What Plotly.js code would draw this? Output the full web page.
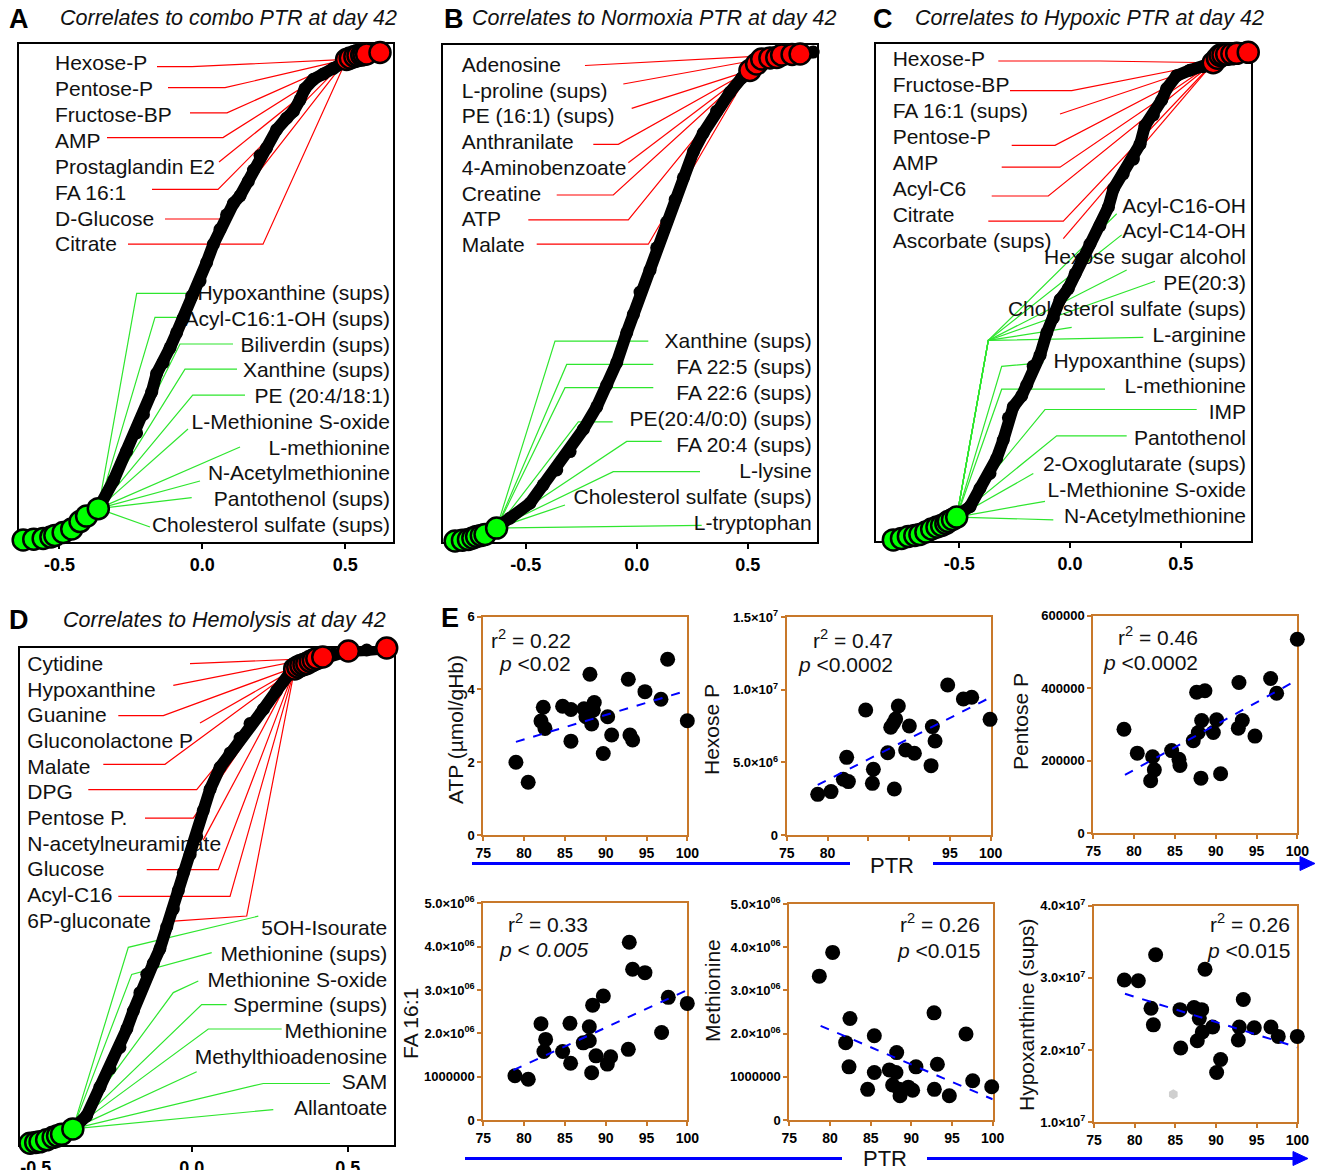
<!DOCTYPE html>
<html><head><meta charset="utf-8">
<script src="https://cdn.plot.ly/plotly-3.0.1.min.js"></script>
<style>body{margin:0;background:#fff}#chart{width:1320px;height:1170px}</style>
</head><body><div id="chart"></div>
<script>
// ================= DATA =================
// Panel A – correlates to combo PTR (x = correlation, y = rank percentile)
const curveA_r = [-0.627,-0.557,-0.516,-0.487,-0.457,-0.428,-0.405,-0.364,-0.311,-0.265,-0.230,-0.206,-0.177,-0.160,-0.137,-0.113,-0.090,-0.067,-0.037,-0.008,0.015,0.039,0.062,0.085,0.109,0.132,0.161,0.179,0.202,0.225,0.260,0.295,0.319,0.342,0.359,0.389,0.424,0.459,0.505,0.534,0.575,0.622];
const curveA_rank = [0.4,0.7,1.3,1.9,2.6,4.1,5.2,6.7,12.3,18.2,21.9,25.6,30.1,33.8,36.0,39.0,42.0,44.9,49.4,52.4,56.1,59.8,62.8,65.7,68.0,69.5,72.4,74.7,77.6,79.1,82.8,85.1,86.5,88.8,91.0,92.9,94.0,95.1,96.9,97.5,98.0,98.3];
const greenA_r = [-0.627,-0.590,-0.557,-0.530,-0.516,-0.487,-0.457,-0.428,-0.405,-0.364];
const greenA_rank = [0.4,0.55,0.7,1.0,1.3,1.9,2.6,4.1,5.2,6.7];
const redA_r = [0.505,0.518,0.534,0.545,0.558,0.566,0.575,0.622];
const redA_rank = [96.9,97.2,97.5,97.7,97.8,97.9,98.0,98.3];
const redA_labels = ['Hexose-P','Pentose-P','Fructose-BP','AMP','Prostaglandin E2','FA 16:1','D-Glucose','Citrate'];
const greenA_labels = ['Hypoxanthine (sups)','Acyl-C16:1-OH (sups)','Biliverdin (sups)','Xanthine (sups)','PE (20:4/18:1)','L-Methionine S-oxide','L-methionine','N-Acetylmethionine','Pantothenol (sups)','Cholesterol sulfate (sups)'];

// Panel B – Normoxia PTR
const curveB_r = [-0.818,-0.758,-0.721,-0.683,-0.631,-0.571,-0.481,-0.421,-0.360,-0.300,-0.240,-0.180,-0.135,-0.090,-0.045,-0.015,0.015,0.060,0.090,0.135,0.173,0.210,0.255,0.300,0.360,0.420,0.473,0.510,0.563,0.631,0.736,0.795];
const curveB_rank = [0.2,0.5,1.1,1.5,2.8,4.8,7.8,11.5,14.5,18.2,22.7,27.2,31.6,36.1,42.1,45.8,50.3,54.7,59.2,64.4,68.9,73.3,78.5,82.3,86.7,90.5,93.4,94.9,97.2,97.5,98.2,98.6];
const greenB_r = [-0.818,-0.785,-0.758,-0.738,-0.721,-0.700,-0.683,-0.631];
const greenB_rank = [0.2,0.35,0.5,0.8,1.1,1.3,1.5,2.8];
const redB_r = [0.510,0.540,0.563,0.600,0.631,0.653,0.700,0.736];
const redB_rank = [94.9,96.2,97.2,97.4,97.5,98.0,98.1,98.2];
const redB_labels = ['Adenosine','L-proline (sups)','PE (16:1) (sups)','Anthranilate','4-Aminobenzoate','Creatine','ATP','Malate'];
const greenB_labels = ['Xanthine (sups)','FA 22:5 (sups)','FA 22:6 (sups)','PE(20:4/0:0) (sups)','FA 20:4 (sups)','L-lysine','Cholesterol sulfate (sups)','L-tryptophan'];

// Panel C – Hypoxic PTR
const curveC_r = [-0.797,-0.729,-0.677,-0.624,-0.579,-0.549,-0.511,-0.451,-0.406,-0.361,-0.331,-0.301,-0.278,-0.256,-0.218,-0.195,-0.166,-0.135,-0.105,-0.075,-0.045,-0.008,0.023,0.053,0.090,0.135,0.173,0.196,0.240,0.286,0.316,0.338,0.376,0.414,0.436,0.481,0.541,0.601,0.646,0.677,0.707,0.752,0.804];
const curveC_rank = [0.2,0.9,1.3,2.4,3.1,3.9,4.8,6.9,10.6,13.6,16.6,20.3,24.8,27.0,29.2,31.4,35.2,37.4,41.9,44.9,48.6,50.8,53.8,56.8,59.8,63.5,67.2,70.9,73.9,76.9,79.9,83.6,85.8,88.8,91.1,93.7,94.8,95.5,96.3,97.8,98.0,98.2,98.4];
const greenC_r = [-0.797,-0.760,-0.729,-0.700,-0.677,-0.650,-0.624,-0.600,-0.579,-0.560,-0.549,-0.530,-0.511];
const greenC_rank = [0.2,0.5,0.9,1.1,1.3,1.8,2.4,2.8,3.1,3.5,3.9,4.3,4.8];
const redC_r = [0.646,0.665,0.677,0.690,0.707,0.730,0.752,0.804];
const redC_rank = [96.3,97.2,97.8,97.9,98.0,98.1,98.2,98.4];
const redC_labels = ['Hexose-P','Fructose-BP','FA 16:1 (sups)','Pentose-P','AMP','Acyl-C6','Citrate','Ascorbate (sups)'];
const greenC_labels = ['Acyl-C16-OH','Acyl-C14-OH','Hexose sugar alcohol','PE(20:3)','Cholesterol sulfate (sups)','L-arginine','Hypoxanthine (sups)','L-methionine','IMP','Pantothenol','2-Oxoglutarate (sups)','L-Methionine S-oxide','N-Acetylmethionine'];

// Panel D – Hemolysis
const curveD_r = [-0.518,-0.486,-0.444,-0.417,-0.381,-0.337,-0.294,-0.262,-0.230,-0.208,-0.187,-0.166,-0.144,-0.123,-0.102,-0.080,-0.059,-0.043,-0.027,-0.005,0.016,0.037,0.059,0.091,0.123,0.155,0.187,0.230,0.272,0.315,0.347,0.369,0.401,0.454,0.502,0.561,0.633];
const curveD_rank = [0.4,0.7,1.6,2.2,3.3,5.9,11.7,15.4,19.7,23.4,27.0,30.7,34.4,36.6,39.5,43.9,47.5,51.2,54.8,58.5,62.1,67.3,71.6,76.0,78.9,81.9,84.8,87.7,91.4,95.0,96.5,96.9,97.9,98.8,99.4,99.6,100];
const greenD_r = [-0.518,-0.500,-0.486,-0.465,-0.444,-0.430,-0.417,-0.381];
const greenD_rank = [0.4,0.55,0.7,1.1,1.6,1.9,2.2,3.3];
const redD_r = [0.330,0.340,0.350,0.360,0.369,0.380,0.390,0.401,0.420,0.502,0.625];
const redD_rank = [95.8,96.2,96.5,96.7,96.9,97.3,97.6,97.9,98.2,99.4,100];
const redD_labels = ['Cytidine','Hypoxanthine','Guanine','Gluconolactone P','Malate','DPG','Pentose P.','N-acetylneuraminate','Glucose','Acyl-C16','6P-gluconate'];
const greenD_labels = ['5OH-Isourate','Methionine (sups)','Methionine S-oxide','Spermine (sups)','Methionine','Methylthioadenosine','SAM','Allantoate'];

const curveTicks = [-0.5,0,0.5];
const curveTickText = ['-0.5','0.0','0.5'];

// Panel E – scatter vs PTR
const ptrATP = [79.0,80.5,82.35,82.07,82.56,84.72,85.74,85.74,87.34,87.58,88.07,88.28,88.6,88.48,89.7,90.24,90.73,92.77,92.97,93.3,94.81,96.77,97.59,100.0];
const atp = [2.0,1.45,3.51,3.13,2.93,3.54,3.45,2.58,3.47,3.25,4.42,3.05,3.64,3.43,2.24,3.25,2.75,4.28,2.75,2.61,3.94,3.73,4.83,3.14];
const fitATP_x = [79.0,100]; const fitATP_y = [2.56,3.97];

const ptrHex = [78.8,80.43,81.94,82.56,82.35,84.68,85.62,85.5,87.38,87.75,88.07,88.35,88.68,88.19,89.58,90.03,90.65,92.69,92.85,93.18,94.73,96.65,97.67,99.92];
const hexoseP = [2.80e6,2.99e6,3.84e6,3.68e6,5.35e6,8.61e6,4.53e6,3.56e6,5.67e6,7.42e6,7.70e6,7.99e6,8.89e6,3.17e6,5.86e6,7.51e6,5.63e6,4.78e6,7.47e6,6.48e6,10.34e6,9.37e6,9.49e6,7.97e6];
const fitHex_x = [78.8,100]; const fitHex_y = [3.45e6,9.49e6];

const ptrPen = [78.76,80.39,82.27,82.03,82.48,84.6,85.5,85.62,87.25,87.87,87.66,88.68,88.28,88.19,89.71,90.11,90.6,92.77,92.85,93.26,94.81,96.73,97.47,100.0];
const pentoseP = [287000,221000,211000,145000,175000,228000,204000,187000,255000,278000,389000,393000,311000,152000,278000,313000,164000,290000,416000,311000,268000,427000,386000,535000];
const fitPen_x = [78.88,100]; const fitPen_y = [161000,423000];

const ptrFA = [78.88,80.51,82.07,82.64,82.43,84.72,85.7,85.62,87.25,87.99,87.99,88.4,88.28,88.81,89.71,90.2,90.6,92.77,92.89,93.3,94.81,96.85,97.67,100];
const fa161 = [1.02e6,0.94e6,2.22e6,1.86e6,1.58e6,1.58e6,1.31e6,2.23e6,1.78e6,1.83e6,2.15e6,2.65e6,1.09e6,1.48e6,2.86e6,1.29e6,1.46e6,1.63e6,4.10e6,3.48e6,3.40e6,2.02e6,2.83e6,2.69e6];
const fitFA_x = [78.68,100]; const fitFA_y = [1.15e6,3.0e6];

const ptrMet = [78.69,80.33,82.46,81.93,82.34,84.63,85.45,85.45,87.30,88.11,87.7,88.2,88.61,88.52,89.63,90.16,90.57,92.79,92.83,93.2,94.67,96.72,97.54,99.88];
const methionine = [3.33e6,3.88e6,2.35e6,1.79e6,1.23e6,0.71e6,1.10e6,1.95e6,1.16e6,1.10e6,0.81e6,1.56e6,0.56e6,0.71e6,0.76e6,0.69e6,1.23e6,2.48e6,0.71e6,1.29e6,0.56e6,1.99e6,0.91e6,0.77e6];
const fitMet_x = [78.85,100]; const fitMet_y = [2.18e6,0.48e6];

const ptrHyp = [78.73,80.45,82.58,82.01,82.3,85.57,85.66,87.3,87.7,87.95,88.24,88.32,88.65,89.59,90.08,90.57,92.75,92.87,93.36,94.71,96.76,97.66,100];
const hypoxanthine = [2.97e7,2.96e7,3.32e7,2.58e7,2.35e7,2.56e7,2.03e7,2.59e7,2.13e7,2.44e7,2.56e7,2.25e7,3.12e7,2.32e7,1.69e7,1.87e7,2.14e7,2.32e7,2.70e7,2.31e7,2.32e7,2.19e7,2.19e7];
const ptrHypExcluded = [84.75]; const hypExcluded = [1.39e7];
const fitHyp_x = [78.81,100]; const fitHyp_y = [2.78e7,2.04e7];

const ptrTicks = [75,80,85,90,95,100];

// ================= LAYOUT / STYLE =================
const W = 1320, H = 1170;
const FONT = 'Liberation Sans, Arial, sans-serif';
const RED = '#ff0000', GREEN = '#00ff00', LGREEN = '#2ee62e', ORANGE = '#c8782a', BLUE = '#0000ff';
const px = x => x / W, py = y => 1 - y / H;
const layout = {width:W, height:H, margin:{l:0,r:0,t:0,b:0}, paper_bgcolor:'white', plot_bgcolor:'rgba(0,0,0,0)',
  showlegend:false, font:{family:FONT, color:'black'}, annotations:[], shapes:[]};
const traces = [];
const sfx = n => n === 1 ? '' : String(n);

function curvePanel(n, G, D) {
  const xr = [(G.L - G.zero) / G.unit, (G.R - G.zero) / G.unit];
  const toX = p => xr[0] + (p - G.L) / (G.R - G.L) * (xr[1] - xr[0]);
  const toY = p => (G.B - p) / (G.B - G.T) * 100;
  const xa = 'x' + sfx(n), ya = 'y' + sfx(n);
  const lead = (list, tg, tx, ty, color) => {
    const X = [], Y = [];
    list.forEach((pts, i) => {
      pts.forEach(p => { X.push(toX(p[0])); Y.push(toY(p[1])); });
      X.push(tx[tg[i]]); Y.push(ty[tg[i]]); X.push(null); Y.push(null);
    });
    return {type:'scatter', mode:'lines', x:X, y:Y, xaxis:xa, yaxis:ya, line:{color:color, width:1.2}, hoverinfo:'skip', cliponaxis:false};
  };
  traces.push(lead(G.redLead, G.redT, D.redX, D.redY, RED));
  traces.push(lead(G.greenLead, G.greenT, D.greenX, D.greenY, LGREEN));
  traces.push({type:'scatter', mode:'text', xaxis:xa, yaxis:ya, hoverinfo:'skip', cliponaxis:false,
    x:D.redLabels.map(() => toX(G.redLab.x)), y:D.redLabels.map((_, i) => toY(G.redLab.y0 + i * G.redLab.dy + 2)),
    text:D.redLabels, textposition:'middle right', textfont:{family:FONT, size:21, color:'#111'}});
  traces.push({type:'scatter', mode:'text', xaxis:xa, yaxis:ya, hoverinfo:'skip', cliponaxis:false,
    x:D.greenLabels.map(() => toX(G.greenLab.x)), y:D.greenLabels.map((_, i) => toY(G.greenLab.y0 + i * G.greenLab.dy + 2)),
    text:D.greenLabels, textposition:'middle left', textfont:{family:FONT, size:21, color:'#111'}});
  traces.push({type:'scatter', mode:'lines+markers', x:D.curveX, y:D.curveY, xaxis:xa, yaxis:ya, hoverinfo:'skip', cliponaxis:false,
    line:{color:'black', width:12}, marker:{color:'black', size:13}});
  traces.push({type:'scatter', mode:'markers', x:D.greenX, y:D.greenY, xaxis:xa, yaxis:ya, hoverinfo:'skip', cliponaxis:false,
    marker:{color:GREEN, size:21, line:{color:'black', width:2.5}}});
  traces.push({type:'scatter', mode:'markers', x:D.redX, y:D.redY, xaxis:xa, yaxis:ya, hoverinfo:'skip', cliponaxis:false,
    marker:{color:RED, size:21, line:{color:'black', width:2.5}}});
  layout['xaxis' + sfx(n)] = {domain:[px(G.L), px(G.R)], anchor:ya, range:xr, showline:true, mirror:true, linecolor:'black', linewidth:2,
    ticks:'outside', ticklen:5, tickwidth:2, tickcolor:'black', tickvals:curveTicks, ticktext:curveTickText,
    tickfont:{family:FONT, size:18, weight:'bold', color:'black'}, showgrid:false, zeroline:false, layer:'below traces', fixedrange:true};
  layout['yaxis' + sfx(n)] = {domain:[py(G.B), py(G.T)], anchor:xa, range:[0, 100], showline:true, mirror:true, linecolor:'black', linewidth:2,
    showticklabels:false, ticks:'', showgrid:false, zeroline:false, layer:'below traces', fixedrange:true};
}

curvePanel(1, {L:19.3, R:393, T:44, B:542, zero:202.3, unit:285.7,
  redLab:{x:55, y0:62.9, dy:25.9}, greenLab:{x:390, y0:293, dy:25.73},
  redLead:[[[157,66.6],[192,66.6]],[[168,87.7],[225,87.7]],[[190,112.8],[227,112.8]],[[107,137.6],[223,137.6]],[[219,162]],[[152,189.4],[218,189.4]],[[165,219],[222,219]],[[128,244.2],[263,244.2]]],
  redT:[0,0,0,0,0,0,0,0],
  greenLead:[[[190,293.4],[136.7,293.4]],[[185,317.4],[155,317.4]],[[233,344],[180,344]],[[237,369.2],[185,369.2]],[[245,395.1],[192.7,395.1]],[[188,429]],[[240,447]],[[200,481]],[[191.7,497.6]],[[150,527]]],
  greenT:[9,9,9,9,9,9,9,9,9,9]},
  {curveX:curveA_r, curveY:curveA_rank, redX:redA_r, redY:redA_rank, greenX:greenA_r, greenY:greenA_rank, redLabels:redA_labels, greenLabels:greenA_labels});

curvePanel(2, {L:442.7, R:816.7, T:45.1, B:542, zero:636.7, unit:222,
  redLab:{x:461.7, y0:64.7, dy:25.74}, greenLab:{x:811.7, y0:341.1, dy:25.96},
  redLead:[[[585,65.5]],[[623.3,84]],[[631.7,108.4]],[[593.3,144.3],[618.3,144.3]],[[628.3,162.8]],[[556.7,195],[613.3,195]],[[528.3,219.8],[628.3,219.8]],[[536.7,244.2],[648.3,244.2]]],
  redT:[7,2,0,0,0,0,0,0],
  greenLead:[[[648.3,341.1],[555,341.1]],[[653.3,364.4],[566.7,364.4]],[[653.3,387.7],[565,387.7]],[[612.7,421.8],[578.3,421.8]],[[661.7,441.4],[626.7,441.4]],[[700,471.7],[613.3,471.7]],[[565,505]],[[701.7,525.3]]],
  greenT:[7,7,7,7,7,7,7,7]},
  {curveX:curveB_r, curveY:curveB_rank, redX:redB_r, redY:redB_rank, greenX:greenB_r, greenY:greenB_rank, redLabels:redB_labels, greenLabels:greenB_labels});

curvePanel(3, {L:876, R:1250.7, T:44.4, B:540.9, zero:1070, unit:221.7,
  redLab:{x:892.7, y0:59.2, dy:25.9}, greenLab:{x:1246, y0:205.3, dy:25.84},
  redLead:[[[998.3,61],[1100,61]],[[1010,90.6],[1071.7,90.6]],[[1060,114]],[[1011.7,145.4],[1055,145.4]],[[1001.7,167.2],[1060,167.2]],[[991.7,196],[1048.3,196]],[[988.3,221.2],[1063.3,221.2]],[[1063.3,238.6]]],
  redT:[0,0,0,0,0,0,0,0],
  greenLead:[[[1116.7,213.8],[988.3,340.4]],[[1121.7,234.9],[988.3,340.4]],[[1126.7,270],[988.3,340.4]],[[1155,281.2],[988.3,340.4]],[[1071.7,327.4],[988.3,340.4]],[[1143.3,337.4],[988.3,340.4]],[[1043.3,362.6],[1001.7,366.3]],[[1105,389.2],[1001.7,389.2]],[[1196.7,409.5],[1045,409.5]],[[1126.7,435.8],[1056.7,435.8]],[[1033.3,473.5]],[[1045,501.3]],[[1053.3,519.8]]],
  greenT:[12,12,12,12,12,12,12,12,12,12,12,12,12]},
  {curveX:curveC_r, curveY:curveC_rank, redX:redC_r, redY:redC_rank, greenX:greenC_r, greenY:greenC_rank, redLabels:redC_labels, greenLabels:greenC_labels});

curvePanel(4, {L:20, R:394.3, T:648, B:1145.3, zero:191.7, unit:312,
  redLab:{x:27.3, y0:663.6, dy:25.7}, greenLab:{x:387.3, y0:927.9, dy:25.7},
  redLead:[[[190,663.6]],[[173.3,685.4]],[[118.3,715.6],[163.3,715.6]],[[200,722.9]],[[103.3,764.3],[165,764.3]],[[88.3,789.7],[196.7,789.7]],[[145,818.1],[193.3,818.1]],[[203.3,839.9]],[[146.7,869.7],[218.3,869.7]],[[118.3,896.3],[230,896.3]],[[166.7,921.7],[246.7,916]]],
  redT:[7,9,8,0,0,0,0,0,0,0,0],
  greenLead:[[[258.3,916.2],[128.3,947.3]],[[211.7,952.6],[131.7,974.4]],[[198.3,981],[173.3,992.6]],[[226.7,1004.6],[201.7,1004.6]],[[281.7,1029],[208.3,1029]],[[196.7,1071.8]],[[330,1083.5],[263.3,1083.5]],[[273.3,1109.6]]],
  greenT:[7,7,7,7,7,7,7,7]},
  {curveX:curveD_r, curveY:curveD_rank, redX:redD_r, redY:redD_rank, greenX:greenD_r, greenY:greenD_rank, redLabels:redD_labels, greenLabels:greenD_labels});

// ----- Scatter panels (E) -----
function scatterPanel(n, G, D) {
  const xa = 'x' + sfx(n), ya = 'y' + sfx(n);
  if (D.exX) traces.push({type:'scatter', mode:'markers', x:D.exX, y:D.exY, xaxis:xa, yaxis:ya, hoverinfo:'skip', cliponaxis:false,
    marker:{color:'#cfcfcf', size:10, symbol:'hexagon'}});
  traces.push({type:'scatter', mode:'markers', x:D.x, y:D.y, xaxis:xa, yaxis:ya, hoverinfo:'skip', cliponaxis:false,
    marker:{color:'black', size:15}});
  traces.push({type:'scatter', mode:'lines', x:D.fx, y:D.fy, xaxis:xa, yaxis:ya, hoverinfo:'skip', cliponaxis:false,
    line:{color:BLUE, width:2, dash:'dash'}});
  const base = {showline:true, mirror:true, linecolor:ORANGE, linewidth:2, ticks:'outside', ticklen:4, tickwidth:2, tickcolor:ORANGE,
    showgrid:false, zeroline:false, layer:'below traces', fixedrange:true};
  layout['xaxis' + sfx(n)] = Object.assign({}, base, {domain:[px(G.L), px(G.R)], anchor:ya, range:[75, 100],
    tickvals:ptrTicks, ticktext:D.xtext, tickfont:{family:FONT, size:14, weight:'bold', color:'black'}});
  layout['yaxis' + sfx(n)] = Object.assign({}, base, {domain:[py(G.B), py(G.T)], anchor:xa, range:D.yr,
    tickvals:D.yv, ticktext:D.yt, tickfont:{family:FONT, size:13, weight:'bold', color:'black'}});
}
const xtFull = ['75','80','85','90','95','100'];
const sup06 = v => v + '×10<sup>06</sup>';
scatterPanel(5, {L:483.3, R:687.3, T:616.7, B:835}, {x:ptrATP, y:atp, fx:fitATP_x, fy:fitATP_y, yr:[0,6], yv:[0,2,4,6], yt:['0','2','4','6'], xtext:xtFull});
scatterPanel(6, {L:786.7, R:990.7, T:617.3, B:835}, {x:ptrHex, y:hexoseP, fx:fitHex_x, fy:fitHex_y, yr:[0,1.5e7], yv:[0,5e6,1e7,1.5e7],
  yt:['0','5.0×10<sup>6</sup>','1.0×10<sup>7</sup>','1.5×10<sup>7</sup>'], xtext:['75','80','','','95','100']});
scatterPanel(7, {L:1093.3, R:1297.3, T:615.7, B:833.3}, {x:ptrPen, y:pentoseP, fx:fitPen_x, fy:fitPen_y, yr:[0,600000], yv:[0,200000,400000,600000],
  yt:['0','200000','400000','600000'], xtext:xtFull});
scatterPanel(8, {L:483.3, R:687.3, T:903.3, B:1120}, {x:ptrFA, y:fa161, fx:fitFA_x, fy:fitFA_y, yr:[0,5e6], yv:[0,1e6,2e6,3e6,4e6,5e6],
  yt:['0','1000000',sup06('2.0'),sup06('3.0'),sup06('4.0'),sup06('5.0')], xtext:xtFull});
scatterPanel(9, {L:789.3, R:992.7, T:904, B:1120}, {x:ptrMet, y:methionine, fx:fitMet_x, fy:fitMet_y, yr:[0,5e6], yv:[0,1e6,2e6,3e6,4e6,5e6],
  yt:['0','1000000',sup06('2.0'),sup06('3.0'),sup06('4.0'),sup06('5.0')], xtext:xtFull});
scatterPanel(10, {L:1094, R:1297.3, T:905.7, B:1122.3}, {x:ptrHyp, y:hypoxanthine, fx:fitHyp_x, fy:fitHyp_y, exX:ptrHypExcluded, exY:hypExcluded,
  yr:[1e7,4e7], yv:[1e7,2e7,3e7,4e7], yt:['1.0×10<sup>7</sup>','2.0×10<sup>7</sup>','3.0×10<sup>7</sup>','4.0×10<sup>7</sup>'], xtext:xtFull});

// ----- Annotations -----
function ann(text, x, y, o) {
  layout.annotations.push(Object.assign({text:text, x:px(x), y:py(y), xref:'paper', yref:'paper', showarrow:false,
    xanchor:'left', yanchor:'middle', font:{family:FONT, size:21, color:'black'}}, o || {}));
}
const letterFont = {family:FONT, size:27, weight:'bold', color:'black'};
const titleFont = {family:FONT, size:21.5, color:'#111'};
ann('A', 7, 19, {font:letterFont}); ann('<i>Correlates to combo PTR at day 42</i>', 58, 18, {font:titleFont});
ann('B', 442, 19, {font:letterFont}); ann('<i>Correlates to Normoxia PTR at day 42</i>', 470, 18, {font:titleFont});
ann('C', 871, 19, {font:letterFont}); ann('<i>Correlates to Hypoxic PTR at day 42</i>', 913, 18, {font:titleFont});
ann('D', 7, 620, {font:letterFont}); ann('<i>Correlates to Hemolysis at day 42</i>', 61, 620, {font:titleFont});
ann('E', 439, 618, {font:letterFont});

const statFont = {family:FONT, size:21, color:'#111'};
[[573,639,'r<sup>2</sup> = 0.22'],[573,663,'<i>p</i> <0.02'],
 [895,639,'r<sup>2</sup> = 0.47'],[895,664,'<i>p</i> <0.0002'],
 [1200,636,'r<sup>2</sup> = 0.46'],[1200,662,'<i>p</i> <0.0002'],
 [590,923,'r<sup>2</sup> = 0.33'],[590,949,'<i>p</i> < <i>0.005</i>'],
 [982,923,'r<sup>2</sup> = 0.26'],[982,950,'<i>p</i> <0.015'],
 [1292,923,'r<sup>2</sup> = 0.26'],[1292,950,'<i>p</i> <0.015']].forEach(a => ann(a[2], a[0], a[1], {xanchor:'right', font:statFont}));

const yTitle = (t, x, y) => ann(t, x, y, {xanchor:'center', yanchor:'middle', textangle:-90, font:{family:FONT, size:21, color:'#111'}});
yTitle('ATP (µmol/gHb)', 455, 730);
yTitle('Hexose P', 711, 730);
yTitle('Pentose P', 1020, 722);
yTitle('FA 16:1', 410, 1024);
yTitle('Methionine', 712, 991);
yTitle('Hypoxanthine (sups)', 1026, 1015);
ann('PTR', 892, 865, {xanchor:'center', font:{family:FONT, size:22, color:'#111'}});
ann('PTR', 885, 1158, {xanchor:'center', font:{family:FONT, size:22, color:'#111'}});

// ----- Blue PTR arrows -----
function hline(x0, x1, y) {
  layout.shapes.push({type:'line', xref:'paper', yref:'paper', x0:px(x0), x1:px(x1), y0:py(y), y1:py(y), line:{color:BLUE, width:3}});
}
function head(xb, xt, y, h) {
  layout.shapes.push({type:'path', xref:'paper', yref:'paper', fillcolor:BLUE, line:{color:BLUE, width:1},
    path:`M ${px(xb)} ${py(y - h)} L ${px(xt)} ${py(y)} L ${px(xb)} ${py(y + h)} Z`});
}
hline(472, 850, 863.5); hline(933, 1302, 863.5); head(1300, 1315, 863.5, 7);
hline(465, 842, 1158.5); hline(927, 1295, 1158.5); head(1293, 1308, 1158.5, 7);

Plotly.newPlot('chart', traces, layout, {staticPlot:true, displayModeBar:false});
</script>
</body></html>
